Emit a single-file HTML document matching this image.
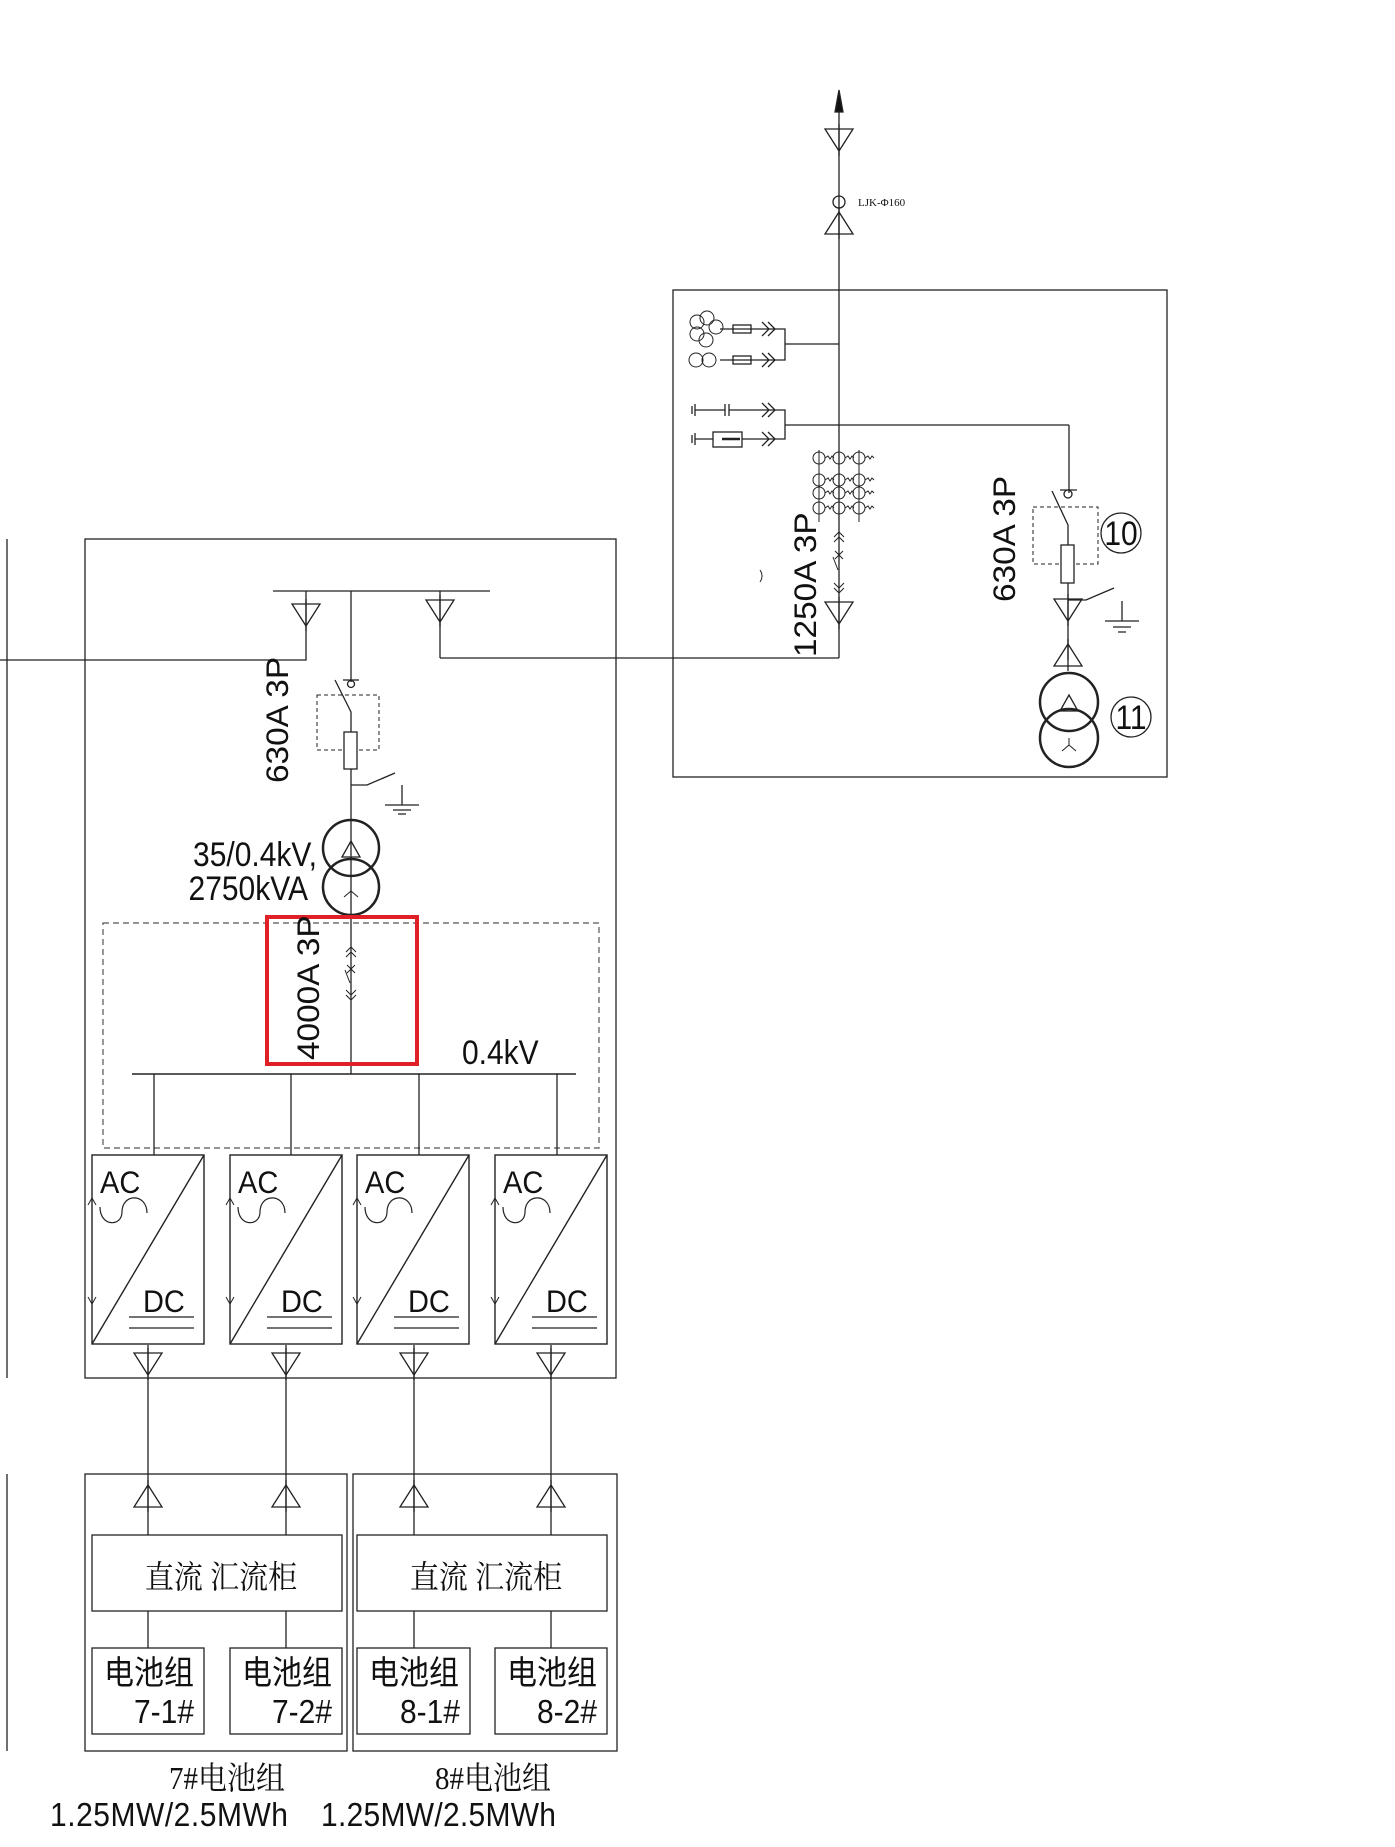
<!DOCTYPE html>
<html><head><meta charset="utf-8"><style>
html,body{margin:0;padding:0;background:#fff}
svg{display:block}
text{font-family:"Liberation Sans","Noto Sans CJK SC",sans-serif;fill:#111}
.s{font-family:"Liberation Serif","Noto Serif CJK SC",serif}
</style></head><body>
<svg width="1395" height="1847" viewBox="0 0 1395 1847" xmlns="http://www.w3.org/2000/svg">
<defs>
<g id="tdn"><path d="M-14,0 L14,0 L0,22 Z M0,-5 V27" fill="none" stroke="#222" stroke-width="1.3"/></g>
<g id="tup"><path d="M-14,22 L14,22 L0,0 Z M0,-5 V27" fill="none" stroke="#222" stroke-width="1.3"/></g>
<g id="pcs" fill="none" stroke="#222" stroke-width="1.4">
<rect x="0" y="0" width="112" height="189"/>
<line x1="0" y1="189" x2="112" y2="0"/>
<path d="M8,52 C8,72 30,72 30,57 C30,38 55,38 55,58" stroke-width="1.2"/>
<path d="M-4,50 L0,43 L4,50 M-4,142 L0,149 L4,142" stroke-width="1"/>
<line x1="37" y1="162" x2="102" y2="162" stroke-width="1.2"/>
<line x1="37" y1="173" x2="102" y2="173" stroke-width="1.2"/>
</g>
</defs>
<g fill="none" stroke="#222" stroke-width="1.3">
<line x1="839" y1="100" x2="839" y2="658"/>
<path d="M835,112 L839,90 L843,112 Z" fill="#111"/>
<use href="#tdn" x="839" y="129"/>
<circle cx="839" cy="202" r="6"/>
<use href="#tup" x="839" y="212"/>
<rect x="673" y="290" width="494" height="487"/>
<line x1="785" y1="344" x2="839" y2="344"/>
<path d="M775,329 H785 V360 H775"/>
<line x1="720" y1="329" x2="775" y2="329"/><rect x="733" y="325" width="18" height="8"/>
<line x1="720" y1="360" x2="775" y2="360"/><rect x="733" y="356" width="18" height="8"/>
<path d="M762,322 L769,329 L762,336 M768,322 L775,329 L768,336 M762,353 L769,360 L762,367 M768,353 L775,360 L768,367"/>
<g stroke-width="1"><circle cx="697" cy="322" r="7"/><circle cx="707" cy="318" r="7"/><circle cx="716" cy="327" r="7"/><circle cx="697" cy="334" r="7"/><circle cx="706" cy="340" r="7"/><circle cx="696" cy="360" r="7"/><circle cx="709" cy="360" r="7"/></g>
<line x1="785" y1="425" x2="1069" y2="425"/><line x1="1069" y1="425" x2="1069" y2="493"/>
<path d="M775,410 H785 V439 H775"/>
<path d="M692,406 V414 M695,404 V416 M695,410 H725 M725,404 V416 M729,404 V416 M729,410 H775"/>
<path d="M692,435 V443 M695,433 V445 M695,439 H713 M742,439 H775"/><rect x="713" y="432" width="29" height="15"/>
<path d="M722,439 H740" stroke-width="2.5"/>
<path d="M762,403 L769,410 L762,417 M768,403 L775,410 L768,417 M762,432 L769,439 L762,446 M768,432 L775,439 L768,446"/>
<g stroke-width="1"><line x1="819" y1="450" x2="819" y2="522"/><line x1="859" y1="450" x2="859" y2="522"/>
<circle cx="819" cy="458" r="6"/><circle cx="839" cy="458" r="6"/><circle cx="859" cy="458" r="6"/>
<circle cx="819" cy="480" r="6"/><circle cx="839" cy="480" r="6"/><circle cx="859" cy="480" r="6"/>
<circle cx="819" cy="493" r="6"/><circle cx="839" cy="493" r="6"/><circle cx="859" cy="493" r="6"/>
<circle cx="819" cy="508" r="6"/><circle cx="839" cy="508" r="6"/><circle cx="859" cy="508" r="6"/>
<path d="M825,458 l3,-2 2,3 2,-3 2,2 M845,458 l3,-2 2,3 2,-3 2,2 M865,458 l3,-2 2,3 2,-3 2,2 M825,480 l3,-2 2,3 2,-3 2,2 M845,480 l3,-2 2,3 2,-3 2,2 M865,480 l3,-2 2,3 2,-3 2,2 M825,493 l3,-2 2,3 2,-3 2,2 M845,493 l3,-2 2,3 2,-3 2,2 M865,493 l3,-2 2,3 2,-3 2,2 M825,508 l3,-2 2,3 2,-3 2,2 M845,508 l3,-2 2,3 2,-3 2,2 M865,508 l3,-2 2,3 2,-3 2,2"/>
<path d="M834,537 L839,532 L844,537 M834,542 L839,537 L844,542 M835,551 L843,559 M843,551 L835,559 M833,557 L838,570 M834,583 L839,588 L844,583 M834,588 L839,593 L844,588"/></g>
<use href="#tdn" x="839" y="602"/>
<path d="M760,570 q4,6 0,12" stroke-width="1"/>
<line x1="839" y1="658" x2="440" y2="658"/>
<path d="M1060,490 H1077 M1052,491 L1068,525 V660"/><circle cx="1068" cy="494" r="4"/>
<rect x="1033" y="507" width="65" height="57" stroke-dasharray="4,3" stroke-width="1"/>
<rect x="1061" y="545" width="13" height="38" fill="#fff"/>
<path d="M1068,600 H1086 L1114,588 M1122,601 V621 M1105,621 H1139 M1113,627 H1131 M1118,632 H1126"/>
<use href="#tdn" x="1068" y="599"/>
<use href="#tup" x="1068" y="644"/>
<circle cx="1069" cy="702" r="29" stroke-width="2.5"/><circle cx="1069" cy="738" r="29" stroke-width="2.5"/>
<path d="M1060,711 L1069,695 L1078,711 Z"/>
<path d="M1069,738 V745 M1069,745 L1062,751 M1069,745 L1076,751" stroke-width="1"/>
<circle cx="1121" cy="533" r="20"/><circle cx="1131" cy="717" r="20"/>
<line x1="7" y1="539" x2="7" y2="1378"/><line x1="7" y1="1474" x2="7" y2="1751"/>
<rect x="85" y="539" width="531" height="839"/>
<line x1="273" y1="591" x2="490" y2="591"/>
<path d="M0,660 H306 V591 M440,591 V658"/>
<use href="#tdn" x="306" y="604"/><use href="#tdn" x="440" y="600"/>
<line x1="351" y1="591" x2="351" y2="682"/>
<path d="M343,680 H359"/><circle cx="351" cy="684" r="3.5"/>
<path d="M335,680 L351,712 V1074"/>
<rect x="317" y="695" width="62" height="55" stroke-dasharray="4,3" stroke-width="1"/>
<rect x="344" y="732" width="13" height="37" fill="#fff"/>
<path d="M351,785 H367 L395,773 M402,785 V805 M385,805 H419 M393,810 H411 M398,814 H406"/>
<circle cx="351" cy="848" r="28" stroke-width="2.5"/><circle cx="351" cy="887" r="28" stroke-width="2.5"/>
<path d="M342,857 L351,841 L360,857 Z"/>
<path d="M351,885 V891 M351,891 L344,897 M351,891 L358,897" stroke-width="1"/>
<rect x="103" y="923" width="496" height="225" stroke-dasharray="6,4" stroke-width="1.2" stroke="#555"/>
<g stroke-width="1"><path d="M346,952 L351,947 L356,952 M346,957 L351,952 L356,957 M347,965 L355,973 M355,965 L347,973 M345,970 L350,983 M346,990 L351,995 L356,990 M346,995 L351,1000 L356,995"/></g>
<line x1="132" y1="1074" x2="576" y2="1074" stroke-width="1.6"/>
<path d="M154,1074 V1155 M291,1074 V1155 M419,1074 V1155 M557,1074 V1155"/>
<rect x="267" y="917" width="150" height="147" stroke="#e02027" stroke-width="4"/>
<use href="#pcs" x="92" y="1155"/><use href="#pcs" x="230" y="1155"/><use href="#pcs" x="357" y="1155"/><use href="#pcs" x="495" y="1155"/>
<use href="#tdn" x="148" y="1353"/><use href="#tdn" x="286" y="1353"/><use href="#tdn" x="414" y="1353"/><use href="#tdn" x="551" y="1353"/>
<path d="M148,1345 V1535 M286,1345 V1535 M414,1345 V1535 M551,1345 V1535"/>
<rect x="85" y="1474" width="262" height="277"/><rect x="353" y="1474" width="264" height="277"/>
<use href="#tup" x="148" y="1485"/><use href="#tup" x="286" y="1485"/><use href="#tup" x="414" y="1485"/><use href="#tup" x="551" y="1485"/>
<rect x="92" y="1535" width="250" height="76"/><rect x="357" y="1535" width="250" height="76"/>
<path d="M148,1611 V1648 M286,1611 V1648 M414,1611 V1648 M551,1611 V1648"/>
<rect x="92" y="1648" width="112" height="86"/><rect x="230" y="1648" width="112" height="86"/><rect x="357" y="1648" width="113" height="86"/><rect x="495" y="1648" width="112" height="86"/>
</g>
<g>
<text x="858" y="206" font-size="11" class="s" fill="#333">LJK-Φ160</text>
<text transform="translate(816,657) rotate(-90) scale(1.15,1.1)" font-size="29">1250A 3P</text>
<text transform="translate(1015,602) rotate(-90) scale(1.15,1.1)" font-size="29">630A 3P</text>
<text transform="translate(288,783) rotate(-90) scale(1.15,1.1)" font-size="29">630A 3P</text>
<text transform="translate(319,1060) rotate(-90) scale(1.15,1.1)" font-size="29">4000A 3P</text>
<text transform="translate(1121,545) scale(1,1.15)" font-size="30" text-anchor="middle">10</text>
<text transform="translate(1131,729) scale(1,1.15)" font-size="30" text-anchor="middle">11</text>
<text transform="translate(317,866) scale(1,1.15)" font-size="30" text-anchor="end">35/0.4kV,</text>
<text transform="translate(308,900) scale(1,1.15)" font-size="30" text-anchor="end">2750kVA</text>
<text transform="translate(462,1064) scale(1,1.15)" font-size="30">0.4kV</text>
<g font-size="29">
<text transform="translate(100,1193) scale(1,1.1)">AC</text><text transform="translate(143,1312) scale(1,1.1)">DC</text>
<text transform="translate(238,1193) scale(1,1.1)">AC</text><text transform="translate(281,1312) scale(1,1.1)">DC</text>
<text transform="translate(365,1193) scale(1,1.1)">AC</text><text transform="translate(408,1312) scale(1,1.1)">DC</text>
<text transform="translate(503,1193) scale(1,1.1)">AC</text><text transform="translate(546,1312) scale(1,1.1)">DC</text>
</g>
<text transform="translate(221,1588) scale(1,1.1)" font-size="29" class="s" text-anchor="middle">直流 汇流柜</text>
<text transform="translate(486,1588) scale(1,1.1)" font-size="29" class="s" text-anchor="middle">直流 汇流柜</text>
<g font-size="30">
<text transform="translate(104,1684) scale(1,1.1)">电池组</text><text transform="translate(194,1723) scale(1,1.1)" text-anchor="end">7-1#</text>
<text transform="translate(242,1684) scale(1,1.1)">电池组</text><text transform="translate(332,1723) scale(1,1.1)" text-anchor="end">7-2#</text>
<text transform="translate(369,1684) scale(1,1.1)">电池组</text><text transform="translate(460,1723) scale(1,1.1)" text-anchor="end">8-1#</text>
<text transform="translate(507,1684) scale(1,1.1)">电池组</text><text transform="translate(597,1723) scale(1,1.1)" text-anchor="end">8-2#</text>
</g>
<text transform="translate(227,1789) scale(1,1.1)" font-size="29" class="s" text-anchor="middle">7#电池组</text>
<text transform="translate(493,1789) scale(1,1.1)" font-size="29" class="s" text-anchor="middle">8#电池组</text>
<text transform="translate(50,1826) scale(1,1.1)" font-size="30" textLength="238">1.25MW/2.5MWh</text>
<text transform="translate(321,1826) scale(1,1.1)" font-size="30" textLength="235">1.25MW/2.5MWh</text>
</g>
</svg>
</body></html>
